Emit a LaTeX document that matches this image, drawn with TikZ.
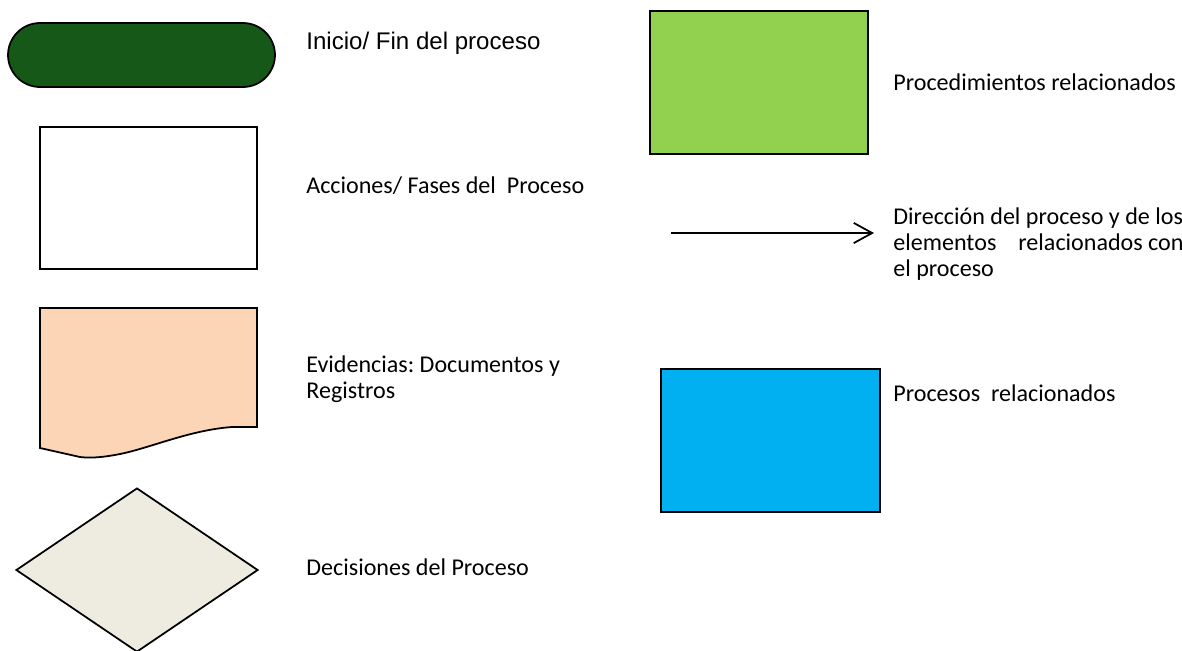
\documentclass[tikz,border=0pt]{standalone}
\usepackage{fontspec}
\setmainfont{Carlito}
\newfontfamily\arialfont{Liberation Sans}
\usetikzlibrary{shapes.geometric,shapes.misc,arrows.meta}
\definecolor{inicioverde}{RGB}{22,88,24}
\definecolor{durazno}{RGB}{251,213,181}
\definecolor{beige}{RGB}{238,236,225}
\definecolor{verdeclaro}{RGB}{146,208,80}
\definecolor{azul}{RGB}{0,176,240}
\frenchspacing
\begin{document}
\begin{tikzpicture}[x=0.02cm,y=-0.02cm,
    caja/.style={draw,line width=1pt,inner sep=0pt},
    etiq/.style={anchor=base west,inner sep=0pt,align=left,font=\fontsize{13.7}{14.8}\selectfont}]
    \useasboundingbox (0,0) rectangle (1182,650);
    % simbolos columna izquierda
    \node[caja,rounded rectangle,fill=inicioverde,minimum width=5.34cm,minimum height=1.28cm] (inicio) at (141.5,55) {};
    \node[caja,rectangle,fill=white,minimum width=4.34cm,minimum height=2.84cm] (accion) at (148.5,198) {};
    \draw[line width=1pt,fill=durazno] (40,308) -- (257,308) -- (257,427) -- (232,427)
        .. controls (190,430) and (150,448) .. (120,454)
        .. controls (100,458) and (88,458) .. (80,457) -- (40,448) -- cycle;
    \node[caja,diamond,fill=beige,minimum width=4.84cm,minimum height=3.28cm] (decision) at (137,570) {};
    % simbolos columna derecha
    \node[caja,rectangle,fill=verdeclaro,minimum width=4.36cm,minimum height=2.86cm] (proced) at (759,82.5) {};
    \coordinate (flechaA) at (671,233);
    \coordinate (flechaB) at (874,233);
    \draw[line width=1pt,-{Straight Barb[length=10.5pt,width=11.5pt,line width=1pt]}] (flechaA) -- (flechaB);
    \node[caja,rectangle,fill=azul,minimum width=4.38cm,minimum height=2.86cm] (procesos) at (770.5,440.5) {};
    % textos (base = ultima linea)
    \node[etiq,font=\arialfont\fontsize{13.7}{15}\selectfont] (tInicio) at (306,49) {Inicio/ Fin del proceso};
    \node[etiq] (tAccion) at (306,193) {Acciones/ Fases del\ \ Proceso};
    \node[etiq] (tEvid) at (306,398) {Evidencias: Documentos y\\Registros};
    \node[etiq] (tDecision) at (306,575) {Decisiones del Proceso};
    \node[etiq] (tProced) at (893,90) {Procedimientos relacionados};
    \node[etiq] (tFlecha) at (893,276) {Direcci\'on del proceso y de los\\elementos\hspace*{12.5pt}relacionados con\\el proceso};
    \node[etiq] (tProcesos) at (893,401) {Procesos\ \ relacionados};
\end{tikzpicture}
\end{document}
